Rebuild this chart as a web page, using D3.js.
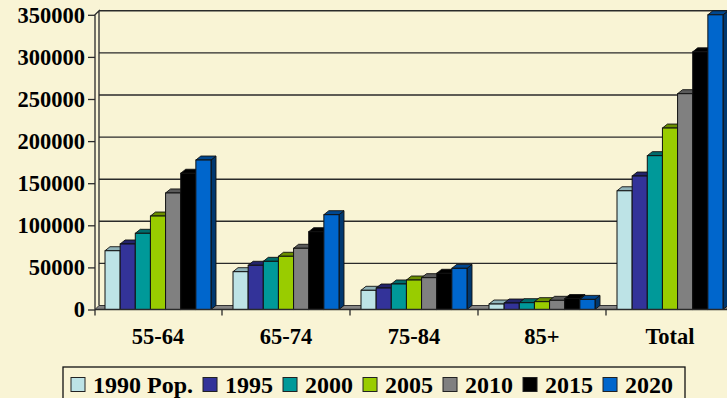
<!DOCTYPE html>
<html><head><meta charset="utf-8">
<script src="https://cdn.jsdelivr.net/npm/d3@7"></script>
<style>
html,body{margin:0;padding:0;background:#F9F4D5;}
svg{display:block;}
text{font-family:"Liberation Serif","Times New Roman",serif;font-weight:bold;fill:#000;}
</style></head>
<body>
<svg id="c" width="727" height="398"></svg>
<script>
const categories = ["55-64","65-74","75-84","85+","Total"];
const seriesNames = ["1990 Pop.","1995","2000","2005","2010","2015","2020"];
const s1990 = [69800, 44900, 22800, 6500, 141000];
const s1995 = [77800, 52500, 25500, 7700, 158500];
const s2000 = [90500, 57200, 30300, 8100, 182700];
const s2005 = [111000, 63200, 35000, 9300, 215500];
const s2010 = [138400, 72700, 37800, 10900, 256300];
const s2015 = [161800, 92400, 43000, 13000, 306000];
const s2020 = [177500, 112600, 48900, 12000, 350000];
const yTicks = [0,50000,100000,150000,200000,250000,300000,350000];
const colors = ["#BDE3E6","#333399","#009999","#99CC00","#808080","#000000","#0066CC"];

const values = [s1990,s1995,s2000,s2005,s2010,s2015,s2020];
const svg = d3.select("#c");
const y = d3.scaleLinear().domain([0,350000]).range([309.5,14.8]);
const x0 = d3.scaleBand().domain(categories).range([94,734]).padding(0);
const x1 = d3.scaleBand().domain(seriesNames).range([0,106]).padding(0);
const groupOff = (x0.bandwidth()-106)/2;
const wdx = 4, wdy = 4;   // wall depth
const bdx = 5, bdy = 4;   // bar depth
const y0 = y(0);
const xL = 95, xR = 745;

// back wall gridlines
const g = svg.append("g");
g.selectAll("line.grid").data(yTicks.slice(1)).join("line")
  .attr("x1", xL+wdx).attr("x2", xR).attr("y1", d=>y(d)-wdy).attr("y2", d=>y(d)-wdy)
  .attr("stroke","#2a2a2a").attr("stroke-width",1.4);
// left wall
g.append("path").attr("d", `M${xL},${y0} L${xL},${y(350000)} L${xL+wdx},${y(350000)-wdy} L${xL+wdx},${y0-wdy}`)
  .attr("fill","none").attr("stroke","#2a2a2a").attr("stroke-width",1.3);
// floor strip
g.append("path").attr("d", `M${xL},${y0} L${xL+wdx},${y0-wdy} L${xR},${y0-wdy} L${xR},${y0} Z`)
  .attr("fill","#858585").attr("stroke","#333").attr("stroke-width",1);

// bars
function shade(c,k){const r=d3.rgb(c); return d3.rgb(r.r*k, r.g*k, r.b*k).formatHex();}
const topCol = colors.map(c=>c==="#BDE3E6"?"#8FB2B8":shade(c,0.7));
const sideCol = colors.map(c=>c==="#BDE3E6"?"#7A9AA0":shade(c,0.55));
const bars = svg.append("g");
categories.forEach((cat,ci)=>{
  seriesNames.forEach((s,si)=>{
    const v = values[si][ci];
    const bx = x0(cat)+groupOff+x1(s), bw = x1.bandwidth(), by = y(v);
    const bg = bars.append("g");
    bg.append("path").attr("d",`M${bx+bw},${by} L${bx+bw+bdx},${by-bdy} L${bx+bw+bdx},${y0-bdy} L${bx+bw},${y0} Z`)
      .attr("fill",sideCol[si]).attr("stroke","#111").attr("stroke-width",0.9).attr("stroke-linejoin","round");
    bg.append("path").attr("d",`M${bx},${by} L${bx+bdx},${by-bdy} L${bx+bw+bdx},${by-bdy} L${bx+bw},${by} Z`)
      .attr("fill",topCol[si]).attr("stroke","#111").attr("stroke-width",0.9).attr("stroke-linejoin","round");
    bg.append("rect").attr("x",bx).attr("y",by).attr("width",bw).attr("height",y0-by)
      .attr("fill",colors[si]).attr("stroke","#111").attr("stroke-width",1);
  });
});

// front baseline + boundary ticks
svg.append("line").attr("x1",xL).attr("x2",xR).attr("y1",y0).attr("y2",y0).attr("stroke","#2a2a2a").attr("stroke-width",1.3);
svg.selectAll("line.bt").data(categories).join("line")
  .attr("x1",d=>Math.max(xL,x0(d))).attr("x2",d=>Math.max(xL,x0(d)))
  .attr("y1",y0).attr("y2",y0+6).attr("stroke","#2a2a2a").attr("stroke-width",1.3);

// y axis
const ya = svg.append("g").attr("transform",`translate(${xL},0)`)
  .call(d3.axisLeft(y).tickValues(yTicks).tickSize(7).tickPadding(3).tickFormat(d3.format("d")));
ya.select(".domain").remove();
ya.selectAll(".tick line").attr("stroke","#2a2a2a").attr("stroke-width",1.3);
ya.selectAll(".tick text").attr("font-size",22.5).attr("fill","#000");

// x axis labels
const xa = svg.append("g").attr("transform",`translate(0,${y0})`)
  .call(d3.axisBottom(x0).tickSize(0).tickPadding(19));
xa.select(".domain").remove();
xa.selectAll(".tick text").attr("font-size",22.5).attr("fill","#000");

// legend
const lg = svg.append("g");
lg.append("rect").attr("x",63).attr("y",367).attr("width",622).attr("height",40)
  .attr("fill","#F9F4D5").attr("stroke","#111").attr("stroke-width",1.3);
let lx = 71;
seriesNames.forEach((s,i)=>{
  lg.append("rect").attr("x",lx).attr("y",377.5).attr("width",14).attr("height",14)
    .attr("fill",colors[i]).attr("stroke","#222").attr("stroke-width",1);
  const t = lg.append("text").attr("x",lx+22).attr("y",393).attr("font-size",24).text(s);
  lx += 22 + t.node().getComputedTextLength() + 10;
});
</script>
</body></html>
